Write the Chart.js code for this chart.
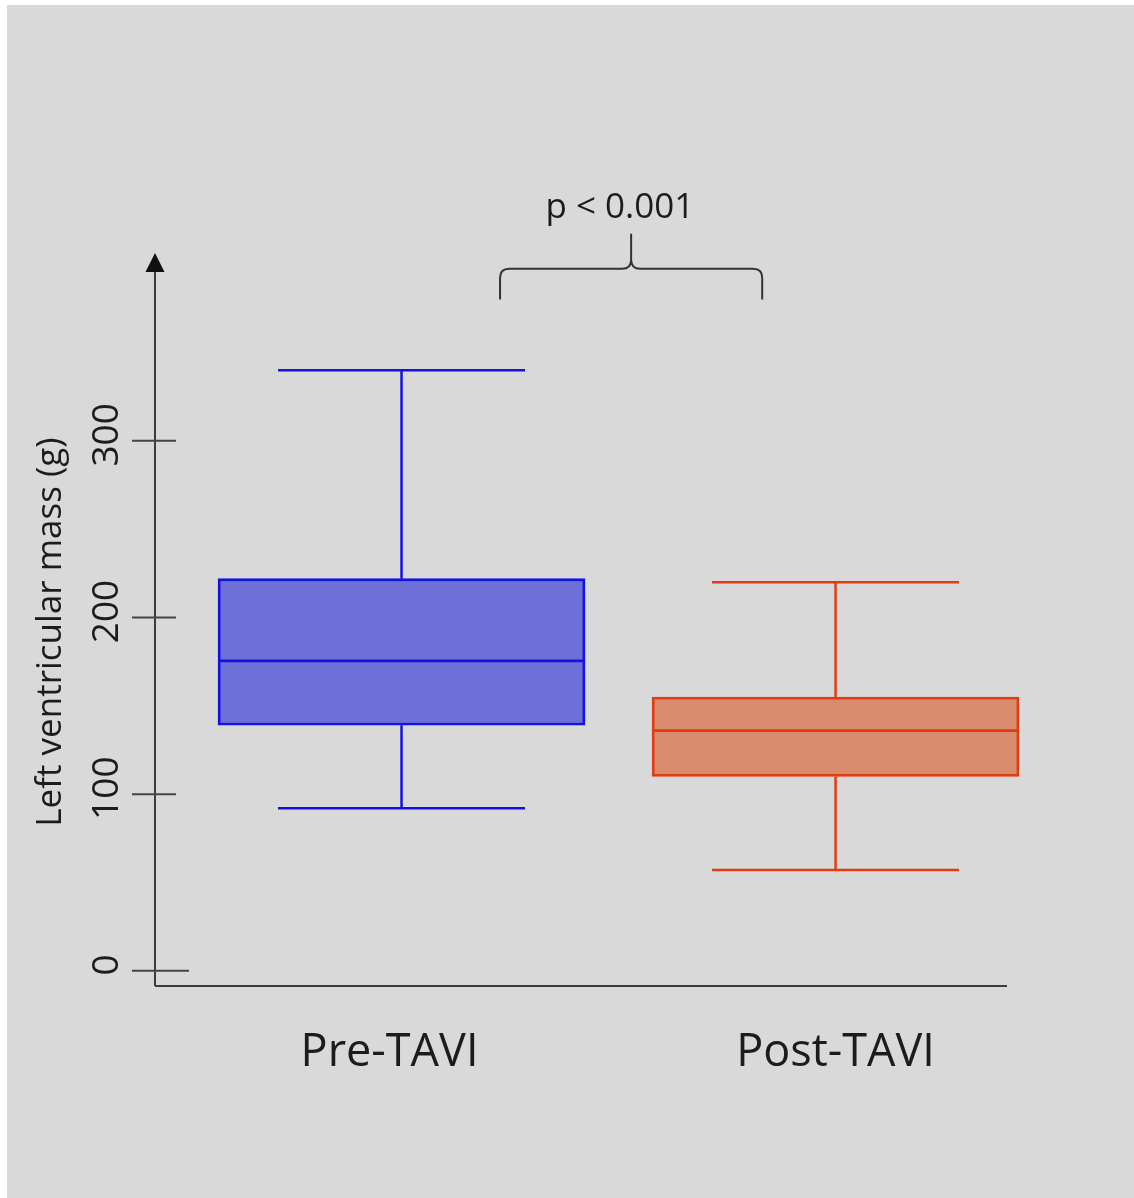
<!DOCTYPE html>
<html><head><meta charset="utf-8">
<script src="https://cdn.jsdelivr.net/npm/chart.js@4/dist/chart.umd.min.js"></script>
<style>html,body{margin:0;padding:0;background:#fff;}canvas{display:block;}</style>
</head><body>
<canvas id="c" width="1134" height="1198"></canvas>
<script>
// ---- data ----
const categories = ['Pre-TAVI', 'Post-TAVI'];
const whiskerMin = [92, 57];
const q1 = [139, 110];
const median = [175.5, 136];
const q3 = [222, 155];
const whiskerMax = [340, 220];
const yTicks = [0, 100, 200, 300];
const yTitle = 'Left ventricular mass (g)';
const pLabel = 'p < 0.001';

const fillColors = ['#6e70d8', '#d98b6d'];
const lineColors = ['#1212e6', '#e03c12'];
const FONT = "'Open Sans', sans-serif";
const AXIS = '#3c3c3c';
const TEXT = '#1c1c1c';

const xPos = categories.map((c, i) => i + 1);
const capHalf = 0.2845; // in x units

const boxPlugin = {
  id: 'boxplot',
  beforeDraw(chart) {
    const ctx = chart.ctx;
    ctx.save();
    ctx.fillStyle = '#ffffff';
    ctx.fillRect(0, 0, chart.width, chart.height);
    ctx.fillStyle = '#d9d9d9';
    ctx.fillRect(7, 5, chart.width - 7, chart.height - 5);
    ctx.restore();
  },
  beforeDatasetsDraw(chart) {
    const ctx = chart.ctx, xs = chart.scales.x, ys = chart.scales.y;
    ctx.save();
    ctx.lineWidth = 2.5;
    ctx.lineCap = 'butt';
    xPos.forEach((xv, i) => {
      const x = xs.getPixelForValue(xv);
      const xl = xs.getPixelForValue(xv - capHalf), xr = xs.getPixelForValue(xv + capHalf);
      ctx.strokeStyle = lineColors[i];
      ctx.beginPath();
      ctx.moveTo(x, ys.getPixelForValue(q3[i]));
      ctx.lineTo(x, ys.getPixelForValue(whiskerMax[i]));
      ctx.moveTo(x, ys.getPixelForValue(q1[i]));
      ctx.lineTo(x, ys.getPixelForValue(whiskerMin[i]));
      ctx.moveTo(xl, ys.getPixelForValue(whiskerMax[i]));
      ctx.lineTo(xr, ys.getPixelForValue(whiskerMax[i]));
      ctx.moveTo(xl, ys.getPixelForValue(whiskerMin[i]));
      ctx.lineTo(xr, ys.getPixelForValue(whiskerMin[i]));
      ctx.stroke();
    });
    ctx.restore();
  },
  afterDatasetsDraw(chart) {
    const ctx = chart.ctx, ys = chart.scales.y;
    const meta = chart.getDatasetMeta(0);
    ctx.save();
    ctx.lineWidth = 2.8;
    meta.data.forEach((bar, i) => {
      const half = bar.width / 2;
      const y = ys.getPixelForValue(median[i]);
      ctx.strokeStyle = lineColors[i];
      ctx.beginPath();
      ctx.moveTo(bar.x - half, y);
      ctx.lineTo(bar.x + half, y);
      ctx.stroke();
    });
    ctx.restore();
  },
  afterDraw(chart) {
    const ctx = chart.ctx, xs = chart.scales.x, ys = chart.scales.y, ca = chart.chartArea;
    ctx.save();
    // axes
    ctx.strokeStyle = AXIS;
    ctx.lineWidth = 2;
    ctx.beginPath();
    ctx.moveTo(ca.left, ca.bottom);
    ctx.lineTo(ca.left, ca.top);
    ctx.moveTo(ca.left, ca.bottom);
    ctx.lineTo(ca.right, ca.bottom);
    ctx.stroke();
    // arrow head
    ctx.fillStyle = '#111';
    ctx.beginPath();
    ctx.moveTo(ca.left, ca.top - 19);
    ctx.lineTo(ca.left - 9.5, ca.top);
    ctx.lineTo(ca.left + 9.5, ca.top);
    ctx.closePath();
    ctx.fill();
    // ticks
    ctx.lineWidth = 2;
    ctx.strokeStyle = '#444';
    yTicks.forEach(v => {
      const y = ys.getPixelForValue(v);
      ctx.beginPath();
      ctx.moveTo(ca.left - 23, y);
      ctx.lineTo(ca.left + (v === 0 ? 34 : 21), y);
      ctx.stroke();
    });
    // tick labels (rotated)
    ctx.fillStyle = TEXT;
    ctx.font = '37px ' + FONT;
    ctx.textAlign = 'center';
    ctx.textBaseline = 'alphabetic';
    yTicks.forEach(v => {
      const y = ys.getPixelForValue(v) - 6;
      ctx.save();
      ctx.translate(ca.left - 37, y);
      ctx.rotate(-Math.PI / 2);
      ctx.fillText(String(v), 0, 0);
      ctx.restore();
    });
    // y title
    ctx.save();
    ctx.font = '35px ' + FONT;
    ctx.translate(61, (ca.top + ca.bottom) / 2 + 3);
    ctx.rotate(-Math.PI / 2);
    ctx.fillText(yTitle, 0, 0);
    ctx.restore();
    // category labels
    ctx.font = '45px ' + FONT;
    categories.forEach((c, i) => {
      ctx.fillText(c, xs.getPixelForValue(xPos[i]) - (i === 0 ? 12 : 0), ca.bottom + 80);
    });
    // significance brace
    const bl = xs.getPixelForValue(1.227), br = xs.getPixelForValue(1.831), bm = xs.getPixelForValue(1.529);
    const yb = ys.getPixelForValue(380), yh = ys.getPixelForValue(397.5), yt = ys.getPixelForValue(417.3);
    const r = 9;
    ctx.strokeStyle = '#333';
    ctx.lineWidth = 2;
    ctx.beginPath();
    ctx.moveTo(bl, yb);
    ctx.lineTo(bl, yh + r);
    ctx.quadraticCurveTo(bl, yh, bl + r, yh);
    ctx.lineTo(bm - r, yh);
    ctx.quadraticCurveTo(bm, yh, bm, yh - r);
    ctx.lineTo(bm, yt);
    ctx.moveTo(bm, yh - r);
    ctx.quadraticCurveTo(bm, yh, bm + r, yh);
    ctx.lineTo(br - r, yh);
    ctx.quadraticCurveTo(br, yh, br, yh + r);
    ctx.lineTo(br, yb);
    ctx.stroke();
    ctx.font = '35px ' + FONT;
    ctx.fillStyle = TEXT;
    ctx.fillText(pLabel, xs.getPixelForValue(1.503), ys.getPixelForValue(426.4));
    ctx.restore();
  }
};

const chart = new Chart(document.getElementById('c'), {
  type: 'bar',
  data: {
    datasets: [{
      data: categories.map((c, i) => ({ x: xPos[i], y: [q1[i], q3[i]] })),
      backgroundColor: fillColors,
      borderColor: lineColors,
      borderWidth: 2.8,
      borderSkipped: false,
      barThickness: 367,
      clip: false
    }]
  },
  options: {
    responsive: false,
    animation: false,
    devicePixelRatio: 1,
    layout: { padding: { left: 155, right: 127, top: 272, bottom: 212 } },
    plugins: { legend: { display: false }, tooltip: { enabled: false } },
    scales: {
      x: { type: 'linear', min: 0.432, max: 2.395, display: false, offset: false },
      y: { type: 'linear', min: -8.6, max: 395.6, display: false }
    }
  },
  plugins: [boxPlugin]
});
</script>
</body></html>
